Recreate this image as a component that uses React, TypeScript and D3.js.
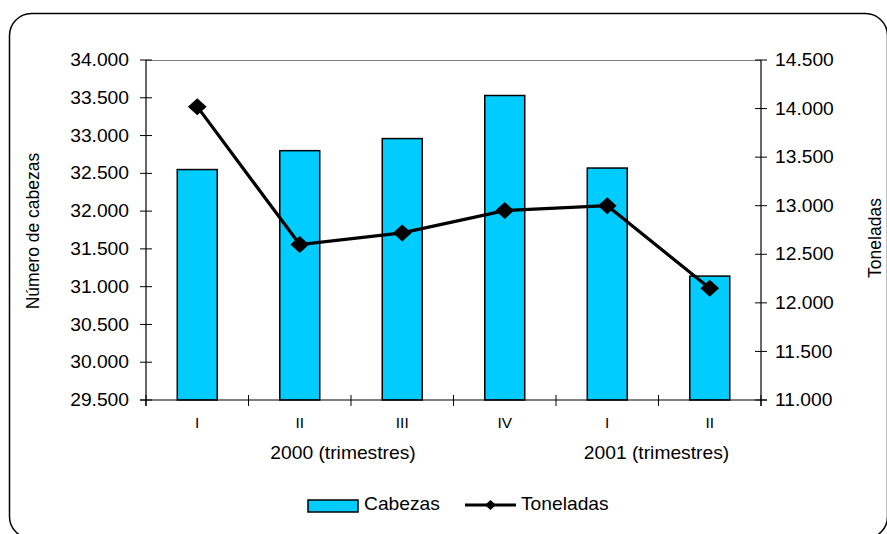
import React from "react";
import * as d3 from "d3";

const categories = ["I", "II", "III", "IV", "I", "II"];
const cabezas = [32550, 32800, 32960, 33530, 32570, 31140];
const toneladas = [14020, 12600, 12720, 12950, 13000, 12150];
const leftTicks = [29500, 30000, 30500, 31000, 31500, 32000, 32500, 33000, 33500, 34000];
const rightTicks = [11000, 11500, 12000, 12500, 13000, 13500, 14000, 14500];
const groups = [
  { label: "2000 (trimestres)", from: 0, to: 3 },
  { label: "2001 (trimestres)", from: 4, to: 5 },
];
const seriesNames = ["Cabezas", "Toneladas"];

const W = 887;
const H = 534;
const plot = { left: 146, right: 761, top: 60, bottom: 400 };
const FONT = "'Liberation Sans', Arial, Helvetica, sans-serif";
const SX = 1.1;
const BAR = "#00CCFF";

const locale = d3.formatLocale({ decimal: ",", thousands: ".", grouping: [3], currency: ["", ""] });
const fmt = locale.format(",.0f");

function T({ x, y, size = 17.5, anchor = "start", children, rotate = 0 }: any) {
  const tr = rotate ? `translate(${x},${y}) rotate(${rotate})` : `translate(${x},${y}) scale(${SX},1)`;
  return (
    <text transform={tr} fontSize={size} fontFamily={FONT} textAnchor={anchor} dy="0.35em" fill="#000">
      {children}
    </text>
  );
}

export default function App() {
  const idx = categories.map((_, i) => String(i));
  const x = d3.scaleBand<string>().domain(idx).range([plot.left, plot.right]).padding(0);
  const bw = x.bandwidth() * 0.39;
  const yL = d3.scaleLinear().domain([29500, 34000]).range([plot.bottom, plot.top]);
  const yR = d3.scaleLinear().domain([11000, 14500]).range([plot.bottom, plot.top]);
  const cx = (i: number) => (x(String(i)) as number) + x.bandwidth() / 2;

  const line = d3
    .line<number>()
    .x((_, i) => cx(i))
    .y((d) => yR(d));

  const diamond = (px: number, py: number, r: number) =>
    `M${px},${py - r}L${px + r * 1.1},${py}L${px},${py + r}L${px - r * 1.1},${py}Z`;

  const catTicks = d3.range(categories.length + 1).map((i) => plot.left + i * x.bandwidth());

  return (
    <svg width={W} height={H} style={{ position: "absolute", left: 0, top: 0, background: "#fff" }}>
      <rect x={9.5} y={13.5} width={878} height={525} rx={22} ry={22} fill="#fff" stroke="#000" strokeWidth={1.5} />

      {/* top border of plot */}
      <line x1={plot.left} x2={plot.right} y1={plot.top + 0.5} y2={plot.top + 0.5} stroke="#808080" strokeWidth={1} />

      {/* bars */}
      {cabezas.map((v, i) => (
        <rect
          key={i}
          x={cx(i) - bw / 2}
          y={yL(v)}
          width={bw}
          height={plot.bottom - yL(v)}
          fill={BAR}
          stroke="#000"
          strokeWidth={1.5}
        />
      ))}

      {/* axes */}
      <line x1={plot.left} x2={plot.left} y1={plot.top} y2={plot.bottom + 6} stroke="#000" strokeWidth={1.2} />
      <line x1={plot.right} x2={plot.right} y1={plot.top} y2={plot.bottom + 6} stroke="#000" strokeWidth={1.2} />
      <line x1={plot.left - 6} x2={plot.right + 6} y1={plot.bottom} y2={plot.bottom} stroke="#000" strokeWidth={1.2} />

      {leftTicks.map((t) => (
        <g key={"l" + t}>
          <line x1={plot.left - 6} x2={plot.left + 6} y1={yL(t)} y2={yL(t)} stroke="#000" strokeWidth={1} />
          <T x={129} y={yL(t)} anchor="end">{fmt(t)}</T>
        </g>
      ))}
      {rightTicks.map((t) => (
        <g key={"r" + t}>
          <line x1={plot.right - 6} x2={plot.right + 6} y1={yR(t)} y2={yR(t)} stroke="#000" strokeWidth={1} />
          <T x={775} y={yR(t)}>{fmt(t)}</T>
        </g>
      ))}
      {catTicks.map((t, i) => (
        <line key={"c" + i} x1={t} x2={t} y1={plot.bottom - 5} y2={plot.bottom + 6} stroke="#000" strokeWidth={1} />
      ))}
      {categories.map((c, i) => (
        <T key={"cl" + i} x={cx(i)} y={423} size={14} anchor="middle">{c}</T>
      ))}
      {groups.map((g, i) => (
        <T key={"g" + i} x={(cx(g.from) + cx(g.to)) / 2 - (i === 0 ? 8 : 2)} y={453} anchor="middle">
          {g.label}
        </T>
      ))}

      <T x={33} y={231} anchor="middle" rotate={-90}>Número de cabezas</T>
      <T x={875} y={238} anchor="middle" rotate={-90}>Toneladas</T>

      {/* line */}
      <path d={line(toneladas) || ""} fill="none" stroke="#000" strokeWidth={3.2} />
      {toneladas.map((v, i) => (
        <path key={"m" + i} d={diamond(cx(i), yR(v), 8.5)} fill="#000" />
      ))}

      {/* legend */}
      <rect x={308} y={500} width={50} height={12} fill={BAR} stroke="#000" strokeWidth={1.5} />
      <T x={364} y={504}>{seriesNames[0]}</T>
      <line x1={465} x2={516} y1={505} y2={505} stroke="#000" strokeWidth={3} />
      <path d={diamond(490.5, 505, 5)} fill="#000" />
      <T x={521} y={504}>{seriesNames[1]}</T>
    </svg>
  );
}
